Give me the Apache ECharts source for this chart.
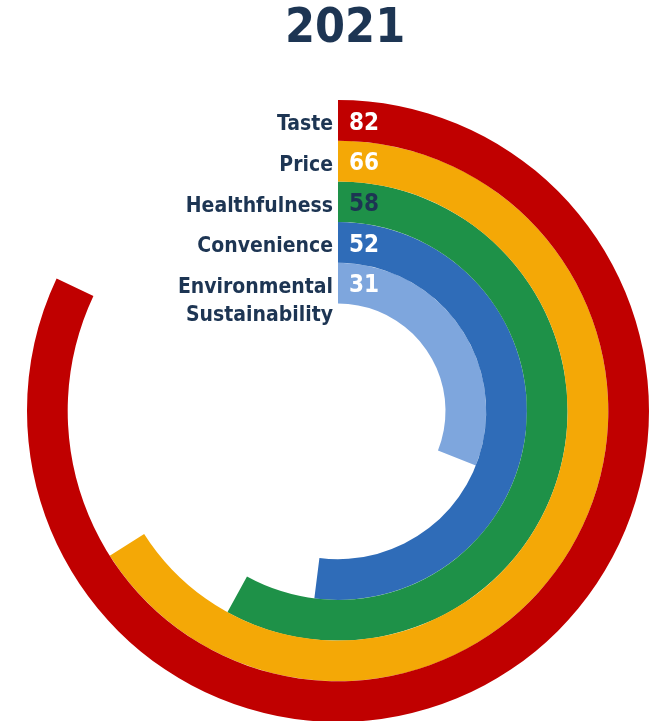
<!DOCTYPE html>
<html>
<head>
<meta charset="utf-8">
<script src="https://cdn.jsdelivr.net/npm/echarts@6/dist/echarts.min.js"></script>
<style>
  html, body { margin: 0; padding: 0; background: #ffffff; }
  #chart { width: 664px; height: 721px; }
</style>
</head>
<body>
<div id="chart"></div>
<script>
// Share of respondents (%) naming each factor, innermost ring first
const chartTitle = '2021';
const categories = ['Environmental\nSustainability', 'Convenience', 'Healthfulness', 'Price', 'Taste'];
const values = [31, 52, 58, 66, 82];
const ringColors = ['#7ea6dd', '#2f6cb8', '#1e9148', '#f4a806', '#c00000'];
const valueTextColors = ['#ffffff', '#ffffff', '#1d3553', '#ffffff', '#ffffff'];

const NAVY = '#1d3553';
const FONT = "'DejaVu Sans Condensed', 'DejaVu Sans', sans-serif";

const chart = echarts.init(document.getElementById('chart'), null, { renderer: 'canvas' });

chart.setOption({
  animation: false,
  backgroundColor: '#ffffff',
  title: {
    text: chartTitle,
    left: 285,
    top: 6,
    padding: 0,
    textStyle: { color: NAVY, fontFamily: FONT, fontWeight: 'bold', fontSize: 48 }
  },
  polar: {
    center: [338, 411],
    radius: [107.5, 311]
  },
  angleAxis: {
    type: 'value',
    min: 0,
    max: 100,
    startAngle: 90,
    clockwise: true,
    axisLine: { show: false },
    axisTick: { show: false },
    axisLabel: { show: false },
    splitLine: { show: false }
  },
  radiusAxis: {
    type: 'category',
    data: categories,
    axisLine: { show: false },
    axisTick: { show: false },
    splitLine: { show: false },
    axisLabel: {
      interval: 0,
      hideOverlap: false,
      margin: 5,
      color: NAVY,
      fontFamily: FONT,
      fontWeight: 'bold',
      fontSize: 21,
      lineHeight: 28,
      // a thin spacer line nudges each name a little below the ring's centre;
      // multi-line names also get an empty line so their first line stays centred
      formatter: (v) => '{gap| }\n' + (v.indexOf('\n') >= 0 ? '\n' + v : v),
      rich: {
        gap: { fontSize: 8, lineHeight: 9 }
      }
    }
  },
  series: [{
    type: 'bar',
    coordinateSystem: 'polar',
    barCategoryGap: '0%',
    data: values.map((v, i) => ({
      value: v,
      itemStyle: { color: ringColors[i] },
      label: { color: valueTextColors[i] }
    })),
    label: {
      show: true,
      position: 'insideStart',
      distance: 11,
      offset: [0, 3],
      fontFamily: FONT,
      fontWeight: 'bold',
      fontSize: 24
    }
  }]
});
</script>
</body>
</html>
